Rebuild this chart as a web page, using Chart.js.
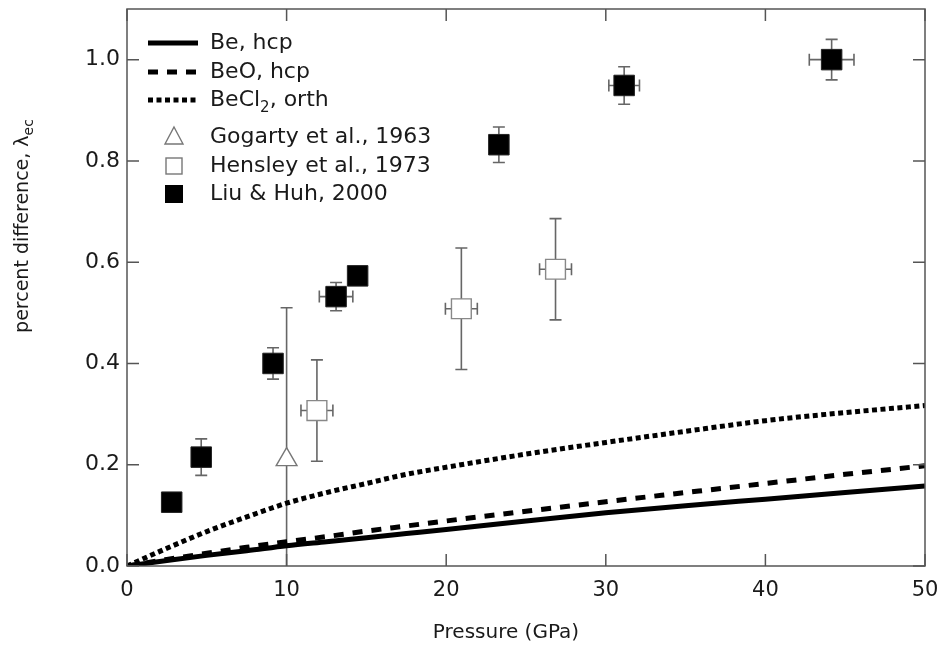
<!DOCTYPE html>
<html>
<head>
<meta charset="utf-8">
<script src="https://cdn.jsdelivr.net/npm/chart.js@4.4.1/dist/chart.umd.min.js"></script>
<style>
  html, body { margin: 0; padding: 0; background: #fff; }
  #wrap { width: 942px; height: 659px; }
</style>
</head>
<body>
<div id="wrap"><canvas id="chart" width="942" height="659"></canvas></div>
<script>
const ctx = document.getElementById('chart').getContext('2d')

// calculated curves (pressure in GPa)
const pressure = [0, 2.5, 5, 7.5, 10, 12.5, 15, 17.5, 20, 25, 30, 35, 40, 45, 50]
const beHcp = [0, 0.011, 0.021, 0.030, 0.040, 0.048, 0.056, 0.064, 0.072, 0.089, 0.105, 0.119, 0.132, 0.145, 0.158]
const beoHcp = [0, 0.013, 0.025, 0.037, 0.048, 0.058, 0.069, 0.079, 0.089, 0.108, 0.127, 0.145, 0.163, 0.181, 0.198]
const becl2Orth = [0, 0.035, 0.068, 0.097, 0.124, 0.145, 0.163, 0.181, 0.195, 0.221, 0.244, 0.266, 0.287, 0.303, 0.317]

// measurements
const gogartyP = [10]
const gogartyVal = [0.21]
const gogartyErrP = [0]
const gogartyErrVal = [0.3]

const hensleyP = [11.9, 20.95, 26.85]
const hensleyVal = [0.307, 0.508, 0.586]
const hensleyErrP = [1.0, 1.0, 1.0]
const hensleyErrVal = [0.1, 0.12, 0.1]

const liuP = [2.8, 4.65, 9.15, 13.1, 14.45, 23.3, 31.15, 44.15]
const liuVal = [0.126, 0.215, 0.400, 0.532, 0.573, 0.832, 0.949, 1.0]
const liuErrP = [0, 0, 0, 1.05, 0, 0, 0.96, 1.4]
const liuErrVal = [0, 0.036, 0.031, 0.028, 0, 0.035, 0.037, 0.04]

const xTicks = [0, 10, 20, 30, 40, 50]
const yTicks = [0, 0.2, 0.4, 0.6, 0.8, 1.0]

const FONT = '"DejaVu Sans", sans-serif'
const AXIS = '#555'
const TOP = 9

function toPoints(xs, ys) {
    return xs.map((x, i) => ({ x: x, y: ys[i] }))
}

// chart.js keeps extra room above the plot for the top tick label; take it back
const pinTop = {
    id: 'pinTop',
    afterLayout(chart) {
        const a = chart.chartArea
        const y = chart.scales.y
        if (a.top > TOP) {
            a.top = TOP
            a.height = a.bottom - TOP
            y.top = TOP
            y.height = a.height
            y.configure()
        }
    }
}

const errorBars = {
    id: 'errorBars',
    beforeDatasetsDraw(chart) {
        const { ctx, chartArea, scales: { x, y } } = chart
        ctx.save()
        ctx.beginPath()
        ctx.rect(chartArea.left, chartArea.top, chartArea.right - chartArea.left, chartArea.bottom - chartArea.top)
        ctx.clip()
        ctx.strokeStyle = '#666'
        ctx.lineWidth = 1.6
        const cap = 6
        chart.data.datasets.forEach(ds => {
            if (!ds.errP) return
            ds.data.forEach((p, i) => {
                const px = x.getPixelForValue(p.x)
                const py = y.getPixelForValue(p.y)
                const ev = ds.errVal[i]
                const ep = ds.errP[i]
                if (ev > 0) {
                    const top = y.getPixelForValue(p.y + ev)
                    const bot = y.getPixelForValue(p.y - ev)
                    ctx.beginPath()
                    ctx.moveTo(px, top); ctx.lineTo(px, bot)
                    ctx.moveTo(px - cap, top); ctx.lineTo(px + cap, top)
                    ctx.moveTo(px - cap, bot); ctx.lineTo(px + cap, bot)
                    ctx.stroke()
                }
                if (ep > 0) {
                    const l = x.getPixelForValue(p.x - ep)
                    const r = x.getPixelForValue(p.x + ep)
                    ctx.beginPath()
                    ctx.moveTo(l, py); ctx.lineTo(r, py)
                    ctx.moveTo(l, py - cap); ctx.lineTo(l, py + cap)
                    ctx.moveTo(r, py - cap); ctx.lineTo(r, py + cap)
                    ctx.stroke()
                }
            })
        })
        ctx.restore()
    }
}

const frame = {
    id: 'frame',
    afterDatasetsDraw(chart) {
        const { ctx, chartArea: a, scales: { x, y } } = chart
        ctx.save()
        ctx.strokeStyle = AXIS
        ctx.lineWidth = 1.5
        ctx.strokeRect(a.left, a.top, a.right - a.left, a.bottom - a.top)
        const len = 12
        ctx.beginPath()
        xTicks.forEach(v => {
            const px = x.getPixelForValue(v)
            ctx.moveTo(px, a.bottom); ctx.lineTo(px, a.bottom - len)
            ctx.moveTo(px, a.top); ctx.lineTo(px, a.top + len)
        })
        yTicks.forEach(v => {
            const py = y.getPixelForValue(v)
            ctx.moveTo(a.left, py); ctx.lineTo(a.left + len, py)
            ctx.moveTo(a.right, py); ctx.lineTo(a.right - len, py)
        })
        ctx.stroke()
        ctx.restore()
    }
}

function drawSub(ctx, parts, x, y) {
    // parts: [text, isSub]
    let cx = x
    parts.forEach(([t, sub]) => {
        ctx.font = sub ? '15px ' + FONT : '22px ' + FONT
        ctx.fillText(t, cx, sub ? y + 8 : y)
        cx += ctx.measureText(t).width
    })
}

const legendAndTitles = {
    id: 'legendAndTitles',
    afterDraw(chart) {
        const { ctx, chartArea: a } = chart
        ctx.save()
        ctx.fillStyle = '#1a1a1a'
        ctx.textBaseline = 'middle'
        const x0 = a.left + 21, x1 = a.left + 71, tx = a.left + 83, mx = a.left + 47
        const rows = [43, 72, 100, 137, 166, 194]

        // line samples
        ctx.strokeStyle = '#000'
        ctx.lineWidth = 5
        ctx.lineCap = 'butt'
        const dashes = [[], [10, 9], [5, 3.5]]
        dashes.forEach((d, i) => {
            ctx.setLineDash(d)
            ctx.beginPath()
            ctx.moveTo(x0, rows[i]); ctx.lineTo(x1, rows[i])
            ctx.stroke()
        })
        ctx.setLineDash([])

        // markers
        ctx.lineWidth = 1.4
        ctx.strokeStyle = '#777'
        ctx.fillStyle = '#fff'
        ctx.beginPath()
        ctx.moveTo(mx, rows[3] - 10); ctx.lineTo(mx + 9, rows[3] + 7); ctx.lineTo(mx - 9, rows[3] + 7); ctx.closePath()
        ctx.fill(); ctx.stroke()
        ctx.fillRect(mx - 8, rows[4] - 8, 16, 16)
        ctx.strokeRect(mx - 8, rows[4] - 8, 16, 16)
        ctx.fillStyle = '#000'
        ctx.fillRect(mx - 9, rows[5] - 9, 18, 18)

        ctx.fillStyle = '#1a1a1a'
        drawSub(ctx, [['Be, hcp', false]], tx, rows[0])
        drawSub(ctx, [['BeO, hcp', false]], tx, rows[1])
        drawSub(ctx, [['BeCl', false], ['2', true], [', orth', false]], tx, rows[2])
        drawSub(ctx, [['Gogarty et al., 1963', false]], tx, rows[3])
        drawSub(ctx, [['Hensley et al., 1973', false]], tx, rows[4])
        drawSub(ctx, [['Liu & Huh, 2000', false]], tx, rows[5])

        // x title
        ctx.font = '20px ' + FONT
        ctx.textAlign = 'center'
        ctx.fillText('Pressure (GPa)', 506, 633)

        // y title with subscript
        ctx.translate(23, 226)
        ctx.rotate(-Math.PI / 2)
        const main = 'percent difference, λ'
        ctx.font = '19px ' + FONT
        const w1 = ctx.measureText(main).width
        ctx.font = '14px ' + FONT
        const w2 = ctx.measureText('ec').width
        ctx.textAlign = 'left'
        let sx = -(w1 + w2) / 2
        ctx.font = '19px ' + FONT
        ctx.fillText(main, sx, 0)
        ctx.font = '14px ' + FONT
        ctx.fillText('ec', sx + w1, 6)
        ctx.restore()
    }
}

const myChart = new Chart(ctx, {
    type: 'scatter',
    data: {
        datasets: [
            {
                label: 'Be, hcp',
                type: 'line',
                data: toPoints(pressure, beHcp),
                borderColor: '#000',
                borderWidth: 5,
                pointRadius: 0,
                cubicInterpolationMode: 'monotone',
                fill: false
            },
            {
                label: 'BeO, hcp',
                type: 'line',
                data: toPoints(pressure, beoHcp),
                borderColor: '#000',
                borderWidth: 5,
                borderDash: [10, 9],
                pointRadius: 0,
                cubicInterpolationMode: 'monotone',
                fill: false
            },
            {
                label: 'BeCl2, orth',
                type: 'line',
                data: toPoints(pressure, becl2Orth),
                borderColor: '#000',
                borderWidth: 5,
                borderDash: [5, 3.5],
                pointRadius: 0,
                cubicInterpolationMode: 'monotone',
                fill: false
            },
            {
                label: 'Gogarty et al., 1963',
                data: toPoints(gogartyP, gogartyVal),
                errP: gogartyErrP,
                errVal: gogartyErrVal,
                pointStyle: 'triangle',
                pointRadius: 12,
                backgroundColor: '#fff',
                borderColor: '#777',
                borderWidth: 1.4
            },
            {
                label: 'Hensley et al., 1973',
                data: toPoints(hensleyP, hensleyVal),
                errP: hensleyErrP,
                errVal: hensleyErrVal,
                pointStyle: 'rect',
                pointRadius: 14,
                backgroundColor: '#fff',
                borderColor: '#888',
                borderWidth: 1.4
            },
            {
                label: 'Liu & Huh, 2000',
                data: toPoints(liuP, liuVal),
                errP: liuErrP,
                errVal: liuErrVal,
                pointStyle: 'rect',
                pointRadius: 14.5,
                backgroundColor: '#000',
                borderColor: '#222',
                borderWidth: 1
            }
        ]
    },
    options: {
        responsive: false,
        animation: false,
        devicePixelRatio: 1,
        layout: { padding: { left: 0, top: TOP, right: 17, bottom: 0 } },
        plugins: {
            legend: { display: false },
            tooltip: { enabled: false }
        },
        scales: {
            x: {
                type: 'linear',
                min: 0,
                max: 50,
                afterBuildTicks: s => { s.ticks = xTicks.map(v => ({ value: v })) },
                afterFit: s => { s.height = 93; s.paddingLeft = 0; s.paddingRight = 0 },
                grid: { display: false, drawTicks: false },
                border: { display: false },
                ticks: { padding: 12, color: '#1a1a1a', font: { family: FONT, size: 21 } }
            },
            y: {
                type: 'linear',
                min: 0,
                max: 1.1,
                afterBuildTicks: s => { s.ticks = yTicks.map(v => ({ value: v })) },
                afterFit: s => { s.width = 127; s.paddingTop = 0; s.paddingBottom = 0 },
                grid: { display: false, drawTicks: false },
                border: { display: false },
                ticks: {
                    padding: 7,
                    color: '#1a1a1a',
                    font: { family: FONT, size: 22 },
                    callback: v => v.toFixed(1)
                }
            }
        }
    },
    plugins: [pinTop, errorBars, frame, legendAndTitles]
})
</script>
</body>
</html>
